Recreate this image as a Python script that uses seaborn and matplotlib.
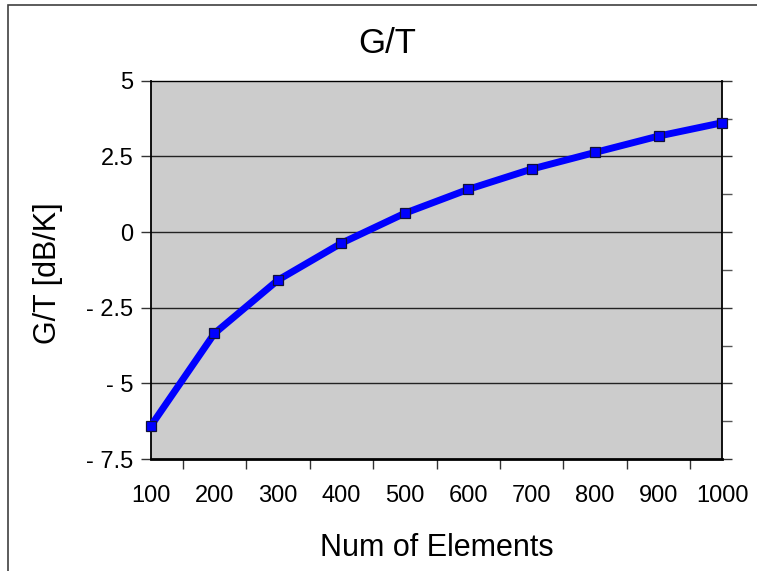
import numpy as np
import pandas as pd
import matplotlib
matplotlib.use("Agg")
import matplotlib.pyplot as plt
from matplotlib.patches import Rectangle
from matplotlib.ticker import FixedLocator, FuncFormatter, MultipleLocator
import seaborn as sns

# G/T versus array size
elements = [100, 200, 300, 400, 500, 600, 700, 800, 900, 1000]
gt_db = [-6.40, -3.35, -1.59, -0.37, 0.62, 1.41, 2.08, 2.63, 3.17, 3.61]
y_ticks = [-7.5, -5, -2.5, 0, 2.5, 5]

df = pd.DataFrame({"elements": elements, "gt": gt_db})

sns.set_style("white")
plt.rcParams["font.family"] = ["Liberation Sans", "DejaVu Sans"]
plt.rcParams["text.color"] = "black"
plt.rcParams["xtick.color"] = "black"
plt.rcParams["ytick.color"] = "black"

W, H = 757, 571
fig = plt.figure(figsize=(W / 100, H / 100), dpi=100)
fig.patch.set_facecolor("white")
ax = fig.add_axes([151 / W, 1 - 459 / H, (722 - 151) / W, (459 - 80.7) / H])
ax.set_facecolor("#CCCCCC")

sns.lineplot(data=df, x="elements", y="gt", ax=ax, color="#0000FF", linewidth=5,
             marker="s", markersize=7.5, markerfacecolor="#0000FF",
             markeredgecolor="#10103A", markeredgewidth=0.9, clip_on=False, zorder=5)

ax.set_xlim(100, 1000)
ax.set_ylim(-7.5, 5)

# y axis: labelled majors on the left, extra minors on the right
ax.yaxis.set_major_locator(FixedLocator(y_ticks))
ax.yaxis.set_major_formatter(FuncFormatter(
    lambda v, p: ("- " + f"{abs(v):g}") if v < 0 else f"{v:g}"))
ax.yaxis.set_minor_locator(MultipleLocator(1.25))
ax.tick_params(axis="y", which="major", direction="out", length=7.2, width=1,
               color="#333333", labelcolor="black", left=True, right=True,
               labelright=False, labelsize=17, pad=5.5)
ax.tick_params(axis="y", which="minor", direction="out", length=7.2, width=1,
               color="#555555", left=False, right=True)

# x axis: category labels under the points, ticks between them
ax.xaxis.set_major_locator(FixedLocator(elements))
ax.xaxis.set_major_formatter(FuncFormatter(lambda v, p: f"{v:g}"))
ax.xaxis.set_minor_locator(FixedLocator([e + 50 for e in elements[:-1]]))
ax.tick_params(axis="x", which="major", length=0, labelsize=17,
               labelcolor="black", pad=19)
ax.tick_params(axis="x", which="minor", direction="out", length=7.2, width=1,
               color="#333333", bottom=True, top=False)

ax.grid(False)
for y in y_ticks[1:-1]:
    ax.axhline(y, color="#222222", linewidth=1, zorder=1)

for side, lw in [("bottom", 2.0), ("left", 1.3), ("right", 1.3), ("top", 1.0)]:
    ax.spines[side].set_visible(True)
    ax.spines[side].set_color("black")
    ax.spines[side].set_linewidth(lw)

ax.set_xlabel("")
ax.set_ylabel("")

fig.text(387.5 / W, 1 - 53 / H, "G/T", fontsize=25, ha="center", va="baseline",
         color="black")
fig.text(436.5 / W, 1 - 556.5 / H, "Num of Elements", fontsize=22,
         ha="center", va="baseline", color="black")
fig.text(48 / W, 1 - 273.5 / H, "G/T [dB/K]", fontsize=22, rotation=90,
         ha="center", va="center", color="black")

# chart-area frame
fig.patches.append(Rectangle((8.3 / W, -0.1), 1.2, 1.1 - 5.3 / H,
                             transform=fig.transFigure, fill=False,
                             edgecolor="#404040", linewidth=1.2))

fig.savefig("out.png", dpi=100)
